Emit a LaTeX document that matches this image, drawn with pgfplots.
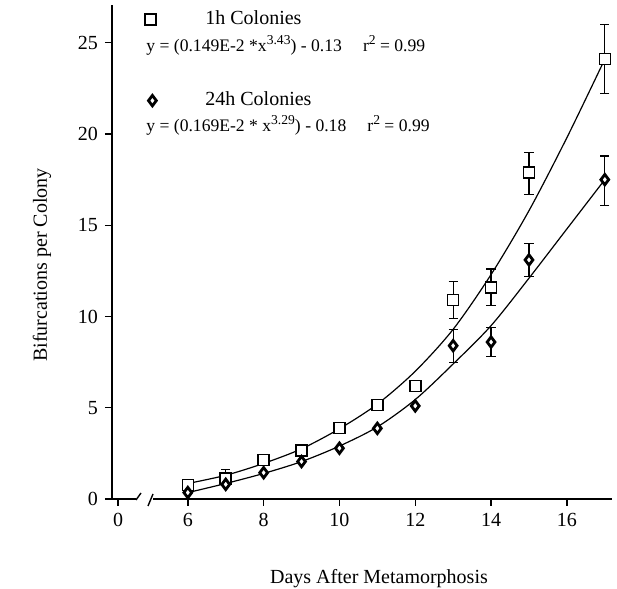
\documentclass[border=0pt]{standalone}
\usepackage{fontspec}
\setmainfont{Liberation Serif}
\usepackage{pgfplots}
\pgfplotsset{compat=1.18}
\pgfplotsset{
  sqlegend/.style={legend image code/.code={\draw[##1] plot coordinates {(0pt,2.6pt)}; \path[draw=none,fill=none] (-3pt,-3pt) rectangle (27.5pt,3pt);}},
  dilegend/.style={legend image code/.code={\draw[##1] plot coordinates {(1pt,2.6pt)}; \path[draw=none,fill=none] (-3pt,-3pt) rectangle (27.5pt,3pt);}},
}
\newcommand{\sups}[1]{\raisebox{0.42em}{\fontsize{6.8}{8}\selectfont #1}}
\begin{document}
\begin{tikzpicture}[x=1pt,y=1pt]
\useasboundingbox (-56,-45) rectangle (252.5,249.5);
\begin{axis}[
  at={(0,0)}, anchor=south west,
  scale only axis, width=250pt, height=247pt,
  xmin=4, xmax=17.19, ymin=0, ymax=27.07,
  axis lines=left, axis line style={-, line width=0.75pt},
  tick align=outside, tick style={line width=0.7pt, black}, major tick length=3.5pt,
  xtick={4.16,6,8,10,12,14,16}, xticklabels={0,6,8,10,12,14,16},
  ytick={0,5,10,15,20,25},
  /pgf/number format/assume math mode=true,
  tick label style={font=\fontsize{10}{12}\selectfont},
  clip=false,
  legend style={at={(0.064,0.989)}, anchor=north west, draw=none, fill=none,
    inner sep=0pt, row sep=30.5pt, column sep=0pt, cells={anchor=base west},
    nodes={inner sep=0pt, text height=7pt, text depth=2pt, font=\fontsize{10}{12}\selectfont}},
]
\addplot[forget plot, smooth, line width=0.6pt] coordinates {
(6,0.85) (7,1.3) (8,1.95) (9,2.75) (10,3.85) (11,5.2) (12,7.0) (13,9.3) (14,12.3) (15,15.8) (16,19.8) (17,24.1)};
\addplot[forget plot, smooth, line width=0.6pt] coordinates {
(6,0.35) (7,0.85) (8,1.4) (9,2.05) (10,2.9) (11,3.95) (12,5.45) (13,7.4) (14,9.5) (15,12.1) (16,14.8) (17,17.5)};
\addplot[only marks, mark=square*, mark size=2.75pt,
  mark options={fill=white, draw=black, line width=0.75pt},
  sqlegend,
  error bars/.cd, y dir=both, y explicit,
  error bar style={line width=0.6pt},
  error mark options={mark size=2.3pt, line width=0.6pt, rotate=90}]
  coordinates {
  (6,0.77) +=(0,0) -=(0,0)
  (7,1.13) +=(0,0.5) -=(0,0)
  (8,2.14) +=(0,0) -=(0,0)
  (9,2.65) +=(0,0) -=(0,0)
  (10,3.9) +=(0,0) -=(0,0)
  (11,5.15) +=(0,0) -=(0,0)
  (12,6.19) +=(0,0) -=(0,0)
  (13,10.9) +=(0,1.0) -=(0,1.0)
  (14,11.6) +=(0,1.0) -=(0,1.0)
  (15,17.9) +=(0,1.1) -=(0,1.2)
  (17,24.1) +=(0,1.9) -=(0,1.9)
  };
\addlegendentry{1h Colonies}
\addplot[only marks, mark=diamond*, mark size=2.6pt,
  mark options={fill=white, draw=black, line width=1.4pt},
  dilegend,
  error bars/.cd, y dir=both, y explicit,
  error bar style={line width=0.6pt},
  error mark options={mark size=2.3pt, line width=0.6pt, rotate=90}]
  coordinates {
  (6,0.35) +=(0,0) -=(0,0)
  (7,0.8) +=(0,0) -=(0,0)
  (8,1.44) +=(0,0) -=(0,0)
  (9,2.05) +=(0,0) -=(0,0)
  (10,2.78) +=(0,0) -=(0,0)
  (11,3.87) +=(0,0) -=(0,0)
  (12,5.1) +=(0,0) -=(0,0)
  (13,8.4) +=(0,0.9) -=(0,0.9)
  (14,8.6) +=(0,0.8) -=(0,0.8)
  (15,13.1) +=(0,0.9) -=(0,0.9)
  (17,17.5) +=(0,1.3) -=(0,1.4)
  };
\addlegendentry{24h Colonies}
\end{axis}
% axis break
\fill[white] (12,-1.2) rectangle (20.5,1.2);
\draw[line width=0.7pt] (12,-0.5) -- (14.5,3);
\draw[line width=0.7pt] (18,-3.5) -- (20.5,2.5);
% equations
\node[anchor=base west, inner sep=0pt, font=\fontsize{8.8}{11}\selectfont] at (17,223.8)
  {y = (0.149E-2 *x\sups{3.43}) - 0.13\hspace{1.2em}r\sups{2} = 0.99};
\node[anchor=base west, inner sep=0pt, font=\fontsize{8.8}{11}\selectfont] at (17,183.8)
  {y = (0.169E-2 * x\sups{3.29}) - 0.18\hspace{1.2em}r\sups{2} = 0.99};
% labels
\node[anchor=base, inner sep=0pt, font=\fontsize{10}{12}\selectfont] at (133.5,-42.5) {Days After Metamorphosis};
\node[anchor=base, rotate=90, inner sep=0pt, font=\fontsize{10}{12}\selectfont] at (-32.5,117) {Bifurcations per Colony};
\end{tikzpicture}
\end{document}
